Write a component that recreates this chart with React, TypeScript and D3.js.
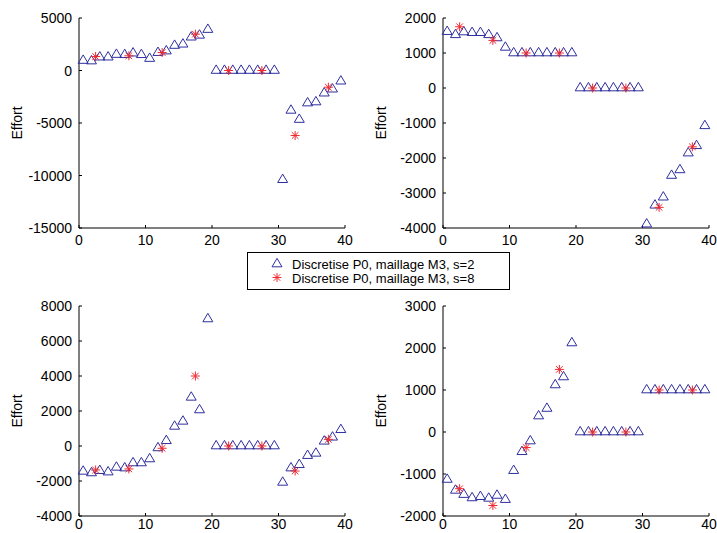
import React from "react";
import * as d3 from "d3";

const triX = [0.625, 1.875, 3.125, 4.375, 5.625, 6.875, 8.125, 9.375, 10.625, 11.875, 13.125, 14.375, 15.625, 16.875, 18.125, 19.375,
  20.625, 21.875, 23.125, 24.375, 25.625, 26.875, 28.125, 29.375, 30.625, 31.875, 33.125, 34.375, 35.625, 36.875, 38.125, 39.375];
const starX = [2.5, 7.5, 12.5, 17.5, 22.5, 27.5, 32.5, 37.5];

const tri1 = [950, 900, 1270, 1270, 1520, 1500, 1650, 1500, 1140, 1700, 1850, 2380, 2500, 3170, 3350, 3900,
  0, 0, 0, 0, 0, 0, 0, 0, -10400, -3800, -4670, -3100, -3000, -2160, -1780, -1020];
const star1 = [1330, 1400, 1710, 3460, 0, 0, -6190, -1590];

const tri2 = [1610, 1520, 1600, 1580, 1580, 1520, 1430, 1160, 1000, 1000, 1000, 1000, 1000, 1000, 1000, 1000,
  0, 0, 0, 0, 0, 0, 0, 0, -3890, -3350, -3120, -2500, -2340, -1860, -1650, -1080];
const star2 = [1750, 1360, 1000, 1000, 0, 0, -3410, -1680];

const tri3 = [-1450, -1540, -1410, -1490, -1220, -1260, -970, -970, -740, -110, 300, 1120, 1410, 2780, 2060, 7260,
  0, 0, 0, 0, 0, 0, 0, 0, -2080, -1260, -1070, -550, -420, 270, 500, 930];
const star3 = [-1370, -1310, -130, 4000, 0, 0, -1430, 380];

const tri4 = [-1130, -1390, -1490, -1570, -1540, -1580, -1510, -1610, -920, -470, -215, 380, 560, 1120, 1310, 2120,
  0, 0, 0, 0, 0, 0, 0, 0, 1000, 1000, 1000, 1000, 1000, 1000, 1000, 1000];
const star4 = [-1350, -1750, -370, 1490, 0, 0, 1000, 1000];

const xTicks = [0, 10, 20, 30, 40];
const yTicks1 = [-15000, -10000, -5000, 0, 5000];
const yTicks2 = [-4000, -3000, -2000, -1000, 0, 1000, 2000];
const yTicks3 = [-4000, -2000, 0, 2000, 4000, 6000, 8000];
const yTicks4 = [-2000, -1000, 0, 1000, 2000, 3000];

const legendLabels = ["Discretise P0, maillage M3, s=2", "Discretise P0, maillage M3, s=8"];

const BLUE = "#2f2f9f";
const RED = "#ee2a30";
const FONT = "'Liberation Sans', Arial, Helvetica, sans-serif";

function triPath(cx: number, cy: number) {
  const w = 5, up = 5.6, down = 2.8;
  return `M${cx},${cy - up}L${cx + w},${cy + down}L${cx - w},${cy + down}Z`;
}
function starPath(cx: number, cy: number) {
  const r = 4.5, d = 3.3;
  return `M${cx - r},${cy}L${cx + r},${cy}M${cx},${cy - r}L${cx},${cy + r}` +
    `M${cx - d},${cy - d}L${cx + d},${cy + d}M${cx - d},${cy + d}L${cx + d},${cy - d}`;
}

type PanelProps = { left: number; right: number; top: number; bottom: number; tri: number[]; star: number[]; yTicks: number[]; xLabelDy: number };

function Panel({ left, right, top, bottom, tri, star, yTicks, xLabelDy }: PanelProps) {
  const x = d3.scaleLinear().domain([0, 40]).range([left, right]);
  const y = d3.scaleLinear().domain([yTicks[0], yTicks[yTicks.length - 1]]).range([bottom, top]);
  const tl = 3;
  return (
    <g>
      <line x1={left} x2={right} y1={bottom} y2={bottom} stroke="#000" strokeWidth={1} />
      <line x1={left} x2={left} y1={top} y2={bottom} stroke="#000" strokeWidth={1} />
      {xTicks.map((t) => (
        <g key={"x" + t}>
          <line x1={x(t)} x2={x(t)} y1={bottom} y2={bottom - tl} stroke="#000" />
          <text x={x(t)} y={bottom + xLabelDy} textAnchor="middle" fontSize={14} fontFamily={FONT}>{t}</text>
        </g>
      ))}
      {yTicks.map((t) => (
        <g key={"y" + t}>
          <line x1={left} x2={left + tl} y1={y(t)} y2={y(t)} stroke="#000" />
          <text x={left - 7} y={y(t) + 5} textAnchor="end" fontSize={14} fontFamily={FONT}>{t}</text>
        </g>
      ))}
      <text transform={`translate(${left - 57},${(top + bottom) / 2}) rotate(-90)`} textAnchor="middle" fontSize={14} fontFamily={FONT}>Effort</text>
      {tri.map((v, i) => (
        <path key={"t" + i} d={triPath(x(triX[i]), y(v))} fill="none" stroke={BLUE} strokeWidth={1} />
      ))}
      {star.map((v, i) => (
        <path key={"s" + i} d={starPath(x(starX[i]), y(v))} fill="none" stroke={RED} strokeWidth={1} />
      ))}
    </g>
  );
}

export default function App() {
  return (
    <svg width={717} height={533} style={{ position: "absolute", left: 0, top: 0, background: "#fff" }}>
      <rect width={717} height={533} fill="#fff" />
      <Panel left={79} right={345} top={18} bottom={228} tri={tri1} star={star1} yTicks={yTicks1} xLabelDy={17} />
      <Panel left={443} right={709} top={18} bottom={228} tri={tri2} star={star2} yTicks={yTicks2} xLabelDy={17} />
      <Panel left={79} right={345} top={306} bottom={516} tri={tri3} star={star3} yTicks={yTicks3} xLabelDy={13} />
      <Panel left={443} right={709} top={306} bottom={516} tri={tri4} star={star4} yTicks={yTicks4} xLabelDy={13} />
      <g>
        <rect x={247.5} y={252.5} width={262} height={37} fill="#fff" stroke="#000" strokeWidth={1} />
        <path d={triPath(277, 264)} fill="none" stroke={BLUE} strokeWidth={1} />
        <path d={starPath(277, 277.5)} fill="none" stroke={RED} strokeWidth={1} />
        <text x={292} y={268.5} fontSize={13} fontFamily={FONT}>{legendLabels[0]}</text>
        <text x={292} y={282.5} fontSize={13} fontFamily={FONT}>{legendLabels[1]}</text>
      </g>
    </svg>
  );
}
